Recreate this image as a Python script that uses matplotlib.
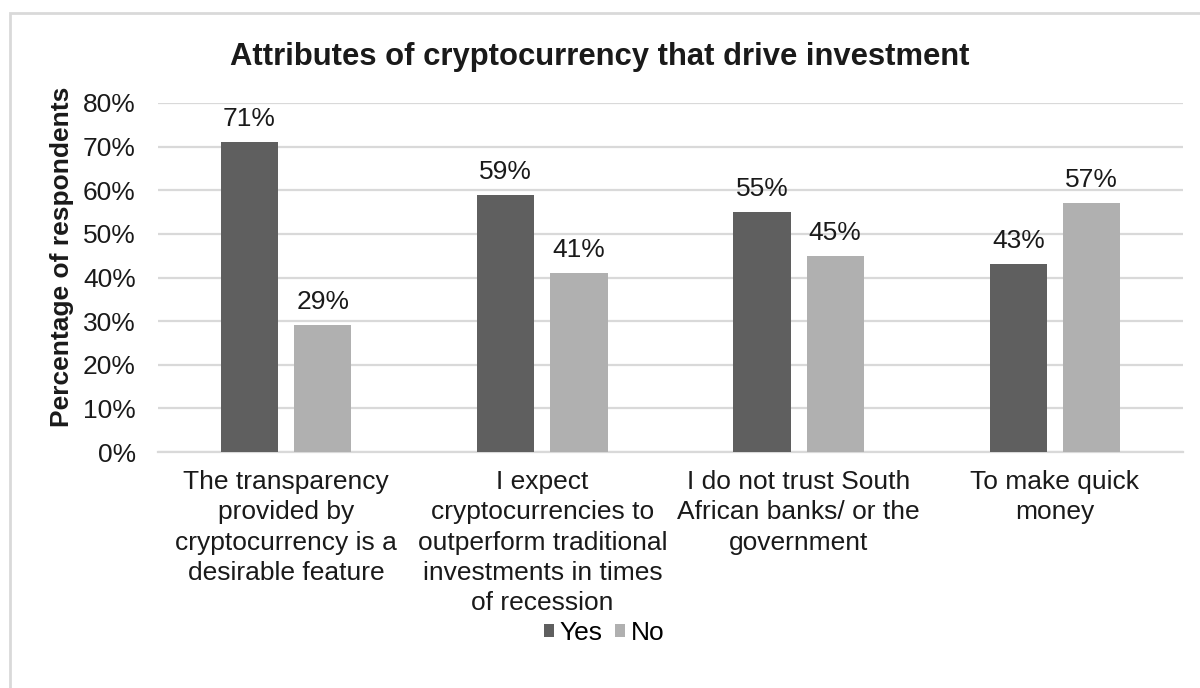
import numpy as np
import matplotlib.pyplot as plt
from matplotlib.patches import Rectangle

plt.rcParams['font.family'] = ['Liberation Sans', 'DejaVu Sans']

categories = [
    "The transparency\nprovided by\ncryptocurrency is a\ndesirable feature",
    "I expect\ncryptocurrencies to\noutperform traditional\ninvestments in times\nof recession",
    "I do not trust South\nAfrican banks/ or the\ngovernment",
    "To make quick\nmoney",
]
yes_vals = [71, 59, 55, 43]
no_vals = [29, 41, 45, 57]
yticks = [0, 10, 20, 30, 40, 50, 60, 70, 80]

W, H = 1200, 688
fig = plt.figure(figsize=(12, 6.88), dpi=100)
ax = fig.add_axes([158 / W, 1 - 452 / H, (1183 - 158) / W, (452 - 103) / H])

# outer chart frame, runs off the right and bottom edges
fig.patches.append(Rectangle((10 / W, -0.05), 1.1, 1 - 13 / H + 0.05,
                             transform=fig.transFigure, fill=False,
                             edgecolor='#d9d9d9', linewidth=2))

x = np.arange(len(categories))
bw = 0.223
gap = 0.0625
b1 = ax.bar(x - (bw + gap) / 2, yes_vals, bw, color='#5f5f5f', label='Yes', zorder=3)
b2 = ax.bar(x + (bw + gap) / 2, no_vals, bw, color='#b0b0b0', label='No', zorder=3)

for bars in (b1, b2):
    for b in bars:
        ax.annotate(f"{b.get_height():.0f}%", (b.get_x() + b.get_width() / 2, b.get_height()),
                    xytext=(0, 8), textcoords='offset points', ha='center', va='bottom',
                    fontsize=19, color='#1a1a1a')

ax.set_xlim(-0.5, len(categories) - 0.5)
ax.set_ylim(0, 80)
ax.set_yticks(yticks)
ax.set_yticklabels([f"{v}%" for v in yticks], fontsize=19, color='#1a1a1a')
ax.set_xticks(x)
ax.set_xticklabels(categories, fontsize=19, color='#1a1a1a', linespacing=1.33)
ax.tick_params(length=0, axis='both')
ax.tick_params(axis='x', pad=13)
ax.tick_params(axis='y', pad=16)
ax.yaxis.grid(True, color='#d9d9d9', linewidth=1.6, zorder=0)
for s in ['top', 'right', 'left']:
    ax.spines[s].set_visible(False)
ax.spines['bottom'].set_color('#d9d9d9')
ax.spines['bottom'].set_linewidth(1.6)

fig.text(62 / W, 1 - 257 / H, "Percentage of respondents", rotation=90, ha='center',
         va='center', fontsize=19, fontweight='bold', color='#1a1a1a')
fig.text(600 / W, 1 - 57 / H, "Attributes of cryptocurrency that drive investment",
         ha='center', va='center', fontsize=22.3, fontweight='bold', color='#1a1a1a')

fig.legend(handles=[b1, b2], loc='center', bbox_to_anchor=(604 / W, 1 - 633 / H), ncol=2,
           frameon=False, fontsize=19, handlelength=0.4, handleheight=0.4,
           handletextpad=0.2, columnspacing=0.45)

fig.savefig('out.png', dpi=100, facecolor='white')
